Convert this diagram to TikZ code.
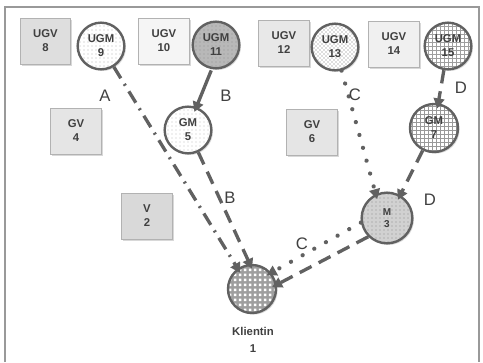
\documentclass[tikz,border=0pt]{standalone}
\usepackage{fontspec}
\setmainfont{Liberation Sans}
\usetikzlibrary{patterns,patterns.meta,shadows,arrows.meta}
\tikzdeclarepattern{name=whitesq, type=uncolored, bounding box={(0pt,0pt) and (3.8pt,3.8pt)}, tile size={(3.8pt,3.8pt)}, code={\fill (0.8pt,0.8pt) rectangle (3.0pt,3.0pt);}}
\begin{document}
\begin{tikzpicture}[x=0.75pt,y=-0.75pt,
  shd/.style={drop shadow={opacity=0.3,shadow xshift=1.2pt,shadow yshift=-1.2pt}},
  box/.style={shd, draw=black!30, line width=0.6pt, minimum width=38pt, minimum height=34.5pt, inner sep=0pt, align=center, font=\bfseries\fontsize{8.5}{10.5}\selectfont, text=black!75},
  circ/.style={shd, circle, draw=black!62, line width=1.8pt, minimum size=35pt, inner sep=0pt, align=center, font=\bfseries\fontsize{8.5}{10.5}\selectfont, text=black!75},
  lbl/.style={font=\fontsize{12.5}{14}\selectfont, text=black!75, inner sep=0pt},
  conn/.style={draw=black!62, line width=2.5pt, -{Triangle[length=7.5pt,width=8pt]}, shorten >=-4pt},
  dashdot/.style={dash pattern=on 10pt off 5pt on 1.5pt off 5pt},
  heavydash/.style={dash pattern=on 10pt off 6pt},
  dotline/.style={line cap=round, dash pattern=on 0.01pt off 10pt, line width=3.2pt},
]
\useasboundingbox (0,0) rectangle (483,362);
\fill[white] (0,0) rectangle (483,362);
\draw[black!40, line width=1pt] (5,362) -- (5,7) -- (479,7) -- (479,362);

% boxes
\node[box, fill=black!13] (v8)  at (45.5,41) {UGV\\8};
\node[box, fill=black!4]  (v10) at (164,41) {UGV\\10};
\node[box, fill=black!9]  (v12) at (284,43) {UGV\\12};
\node[box, fill=black!6]  (v14) at (394,44) {UGV\\14};
\node[box, fill=black!10] (v4)  at (76,131) {GV\\4};
\node[box, fill=black!10] (v6)  at (312,132) {GV\\6};
\node[box, fill=black!15] (v2)  at (147,216) {V\\2};

% circles
\node[circ, preaction={fill=white}, pattern=dots, pattern color=black!30] (u9) at (101,46) {UGM\\9};
\node[circ, preaction={fill=black!28}, pattern=dots, pattern color=black!42] (u11) at (216,45) {UGM\\11};
\node[circ, preaction={fill=white}, pattern=crosshatch dots, pattern color=black!55] (u13) at (335,47) {UGM\\13};
\node[circ, preaction={fill=white}, pattern=grid, pattern color=black!38] (u15) at (448,46) {UGM\\15};
\node[circ, preaction={fill=white}, pattern=dots, pattern color=black!25] (g5) at (188,130) {GM\\5};
\node[circ, minimum size=36pt, preaction={fill=white}, pattern=grid, pattern color=black!40] (g7) at (434,128) {GM\\7};
\node[circ, minimum size=38pt, preaction={fill=black!18}, pattern=dots, pattern color=black!45, font=\bfseries\fontsize{7.5}{9.5}\selectfont] (m3) at (387,218) {M\\3};
\node[circ, minimum size=36pt, preaction={fill=black!38}, pattern=whitesq, pattern color=white] (k) at (252,289) {};
\node[font=\bfseries\fontsize{8.5}{12.5}\selectfont, text=black!75, align=center] (kl) at (253,340) {Klientin\\1};

% connectors
\draw[conn, dashdot] (u9) -- (k.125);
\draw[conn, shorten <=1pt] (u11.260) -- (g5.70);
\draw[conn, heavydash] (g5) -- (k.95);
\draw[conn, dotline] (u13) -- (m3.115);
\draw[conn, heavydash] (u15) -- (g7);
\draw[conn, heavydash] (g7) -- (m3.60);
\draw[conn, dotline] (m3.190) -- (k.40);
\draw[conn, heavydash] (m3.225) -- (k.10);

% labels
\node[lbl] (la) at (105,96) {A};
\node[lbl] (lb1) at (226,96) {B};
\node[lbl] (lb2) at (230,198) {B};
\node[lbl] (lc1) at (355,95) {C};
\node[lbl] (ld1) at (461,88) {D};
\node[lbl] (ld2) at (430,200) {D};
\node[lbl] (lc2) at (302,244) {C};
\end{tikzpicture}
\end{document}
